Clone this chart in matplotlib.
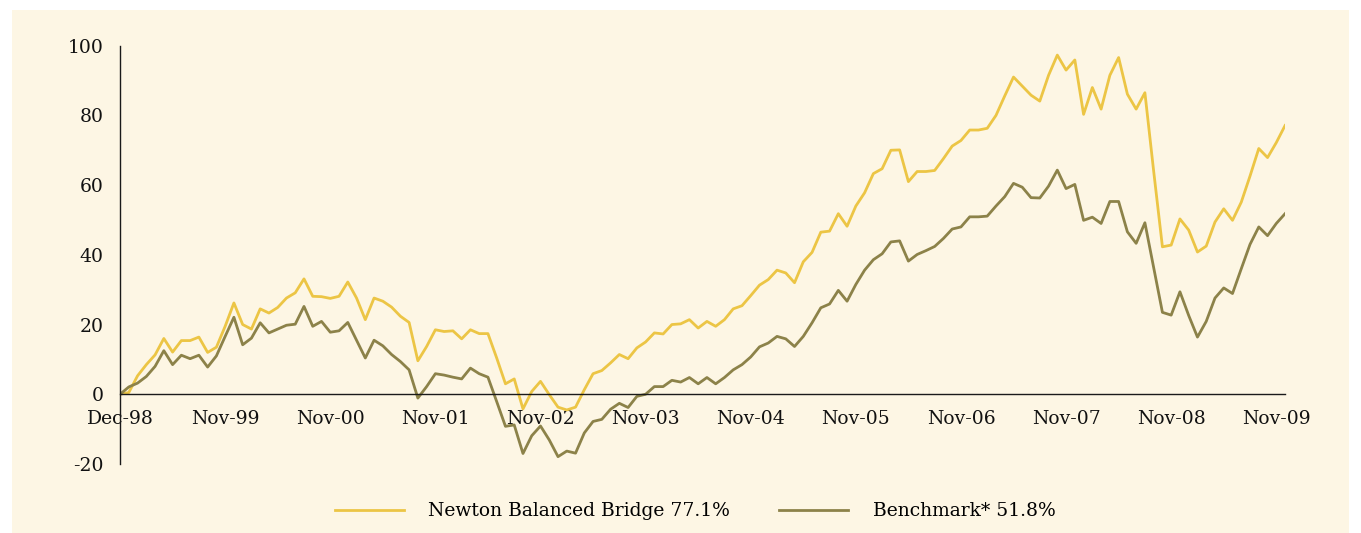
import matplotlib
matplotlib.use('Agg')
import matplotlib.pyplot as plt
from matplotlib.patches import Rectangle

# monthly cumulative performance (%)
newton = [
    0, 0.5, 5.3, 8.5, 11.3, 16, 12.1, 15.4, 15.4, 16.4, 12, 13.5,
    19.5, 26.2, 20, 18.7, 24.5, 23.3, 24.9, 27.6, 29.1, 33.1, 28.1, 28,
    27.5, 28.1, 32.2, 27.6, 21.4, 27.6, 26.7, 25, 22.4, 20.6, 9.6, 13.7,
    18.5, 18, 18.2, 15.9, 18.5, 17.4, 17.4, 10.4, 3, 4.4, -4.2, 0.8,
    3.7, -0.1, -3.7, -4.5, -3.7, 1.3, 5.9, 6.8, 9, 11.4, 10.2, 13.3,
    15, 17.6, 17.3, 20, 20.2, 21.4, 19, 20.9, 19.5, 21.4, 24.5, 25.4,
    28.3, 31.3, 32.9, 35.6, 34.8, 32, 38, 40.7, 46.5, 46.8, 51.8, 48.2,
    54, 57.8, 63.3, 64.7, 70, 70.1, 61, 63.9, 63.9, 64.2, 67.6, 71.2,
    72.8, 75.8, 75.8, 76.3, 80, 85.6, 91, 88.4, 85.8, 84.1, 91.5, 97.3,
    93, 95.9, 80.3, 88, 81.8, 91.5, 96.6, 86.1, 81.8, 86.5, 64, 42.3,
    42.8, 50.3, 47.1, 40.8, 42.5, 49.4, 53.2, 49.9, 55.1, 62.6, 70.5, 67.9,
    72.2, 77.1,
]
benchmark = [
    0, 2.1, 3.2, 5.1, 8, 12.5, 8.5, 11.2, 10.2, 11.2, 7.8, 11,
    16.6, 22.1, 14.2, 16.1, 20.5, 17.6, 18.7, 19.8, 20.1, 25.2, 19.5, 20.9,
    17.8, 18.2, 20.6, 15.5, 10.4, 15.5, 13.9, 11.4, 9.4, 7, -1.1, 2.2,
    5.9, 5.5, 4.9, 4.4, 7.5, 5.9, 4.9, -2.1, -9.2, -8.8, -17, -11.9,
    -9.1, -13.1, -17.9, -16.3, -16.9, -11.1, -7.8, -7.2, -4.3, -2.6, -3.8, -0.6,
    0, 2.2, 2.2, 4, 3.5, 4.8, 3, 4.8, 3, 4.8, 7, 8.5,
    10.7, 13.6, 14.7, 16.6, 15.9, 13.7, 16.6, 20.5, 24.8, 25.9, 29.8, 26.7,
    31.5, 35.6, 38.6, 40.3, 43.7, 44, 38.2, 40.1, 41.2, 42.4, 44.7, 47.4,
    48, 50.9, 50.9, 51.1, 54, 56.7, 60.5, 59.4, 56.4, 56.3, 59.7, 64.3,
    59, 60.2, 49.9, 50.8, 49, 55.3, 55.3, 46.6, 43.3, 49.2, 36.4, 23.5,
    22.7, 29.4, 22.6, 16.4, 20.9, 27.6, 30.5, 28.9, 36, 43, 48, 45.5,
    49, 51.8,
]
tick_labels = ['Dec-98', 'Nov-99', 'Nov-00', 'Nov-01', 'Nov-02', 'Nov-03',
               'Nov-04', 'Nov-05', 'Nov-06', 'Nov-07', 'Nov-08', 'Nov-09']
y_ticks = [-20, 0, 20, 40, 60, 80, 100]

BG = '#FDF6E4'
YELLOW = '#ECC545'
OLIVE = '#8C8249'

plt.rcParams['font.family'] = ['DejaVu Serif']
plt.rcParams['axes.unicode_minus'] = False

fig = plt.figure(figsize=(13.61, 5.33), dpi=100, facecolor='white')
# cream panel with a thin white margin around it
fig.patches.append(Rectangle((12 / 1361, 0), 1337 / 1361, 523 / 533,
                             transform=fig.transFigure, facecolor=BG,
                             edgecolor='none', zorder=-10))
ax = fig.add_axes([0.0882, 0.1295, 0.856, 0.7848], facecolor=BG)

x = list(range(len(newton)))
ax.plot(x, newton, color=YELLOW, lw=2.0, label='Newton Balanced Bridge 77.1%')
ax.plot(x, benchmark, color=OLIVE, lw=2.0, label='Benchmark* 51.8%')

ax.set_xlim(0, len(newton) - 1)
ax.set_ylim(-20, 100)

ax.spines['top'].set_visible(False)
ax.spines['right'].set_visible(False)
ax.spines['bottom'].set_position(('data', 0))
for s in ('left', 'bottom'):
    ax.spines[s].set_linewidth(1.0)
    ax.spines[s].set_color('#1a1a1a')

ax.set_xticks(range(0, 12 * len(tick_labels), 12))
ax.set_xticklabels(tick_labels)
ax.set_yticks(y_ticks)
ax.tick_params(axis='x', length=0, pad=11, labelsize=13.5, colors='#111111')
ax.tick_params(axis='y', length=0, pad=12, labelsize=13.5, colors='#111111')

fig.legend(loc='center', bbox_to_anchor=(0.5107, 0.041), ncol=2, frameon=False,
           fontsize=13.5, handlelength=3.7, handletextpad=1.3, columnspacing=2.6)

fig.savefig('out.png', dpi=100, facecolor='white')
